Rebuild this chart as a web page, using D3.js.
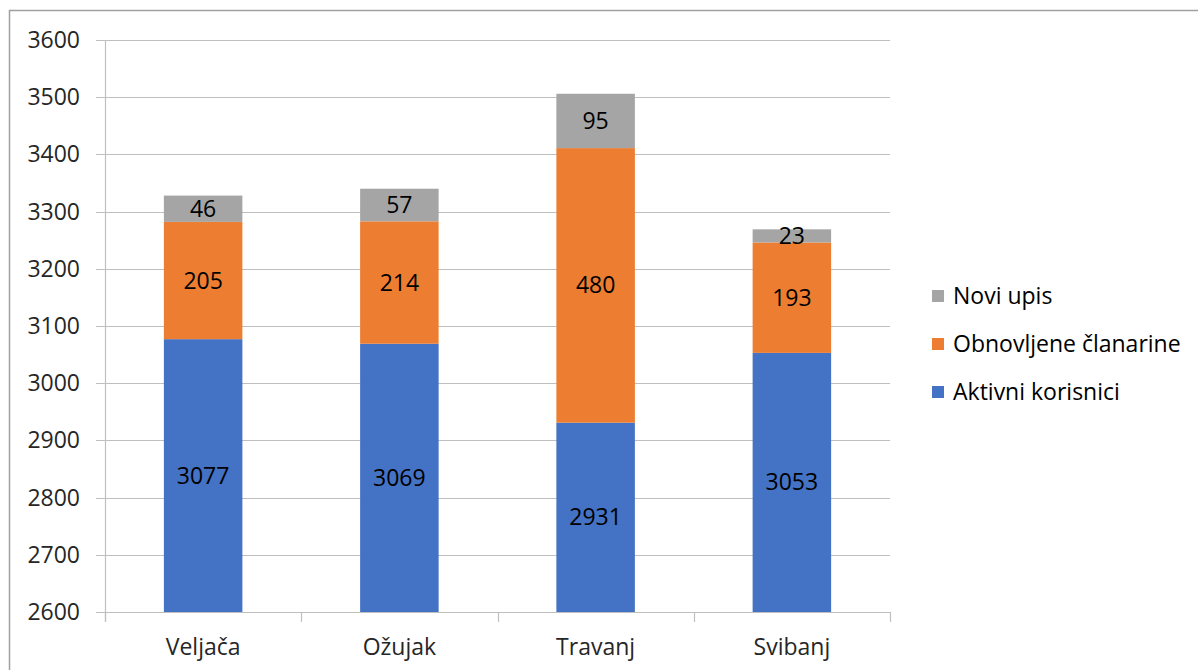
<!DOCTYPE html>
<html><head><meta charset="utf-8">
<script src="https://cdn.jsdelivr.net/npm/d3@7"></script>
<style>body{margin:0;background:#fff}svg{display:block}text{font-family:"Open Sans",sans-serif}</style>
</head><body>
<script>
const categories = ["Veljača","Ožujak","Travanj","Svibanj"];
const seriesNames = ["Aktivni korisnici","Obnovljene članarine","Novi upis"];
const aktivni = [3077,3069,2931,3053];
const obnovljene = [205,214,480,193];
const noviUpis = [46,57,95,23];
const yTicks = [2600,2700,2800,2900,3000,3100,3200,3300,3400,3500,3600];
const colors = ["#4472C4","#ED7D31","#A5A5A5"];

const W=1198,H=670;
const svg=d3.select("body").append("svg").attr("width",W).attr("height",H);
svg.append("rect").attr("x",9.5).attr("y",10.5).attr("width",W).attr("height",H).attr("fill","none").attr("stroke","#a0a0a0").attr("stroke-width",1.5);

const L=105,R=890,T=40,B=612;
const x=d3.scaleBand().domain(categories).range([L,R]).paddingInner(0.6).paddingOuter(0.3);
const y=d3.scaleLinear().domain([2600,3600]).range([B,T]);
const fs=23, tc="#262626";

svg.append("g").selectAll("line").data(yTicks).join("line")
 .attr("x1",96).attr("x2",R).attr("y1",d=>Math.round(y(d))+0.5).attr("y2",d=>Math.round(y(d))+0.5)
 .attr("stroke","#bfbfbf").attr("stroke-width",1.2);
svg.append("line").attr("x1",L+0.5).attr("x2",L+0.5).attr("y1",T).attr("y2",622).attr("stroke","#bfbfbf").attr("stroke-width",1.2);
const bw=(R-L)/categories.length;
svg.append("g").selectAll("line").data(d3.range(categories.length+1)).join("line")
 .attr("x1",i=>Math.round(L+i*bw)+0.5).attr("x2",i=>Math.round(L+i*bw)+0.5).attr("y1",B).attr("y2",622)
 .attr("stroke","#bfbfbf").attr("stroke-width",1.2);
svg.append("g").selectAll("text").data(yTicks).join("text")
 .attr("x",80).attr("y",d=>y(d)).attr("dy","0.35em").attr("text-anchor","end")
 .attr("font-size",fs).attr("fill",tc).text(d=>d);
svg.append("g").selectAll("text").data(categories).join("text")
 .attr("x",d=>x(d)+x.bandwidth()/2).attr("y",647).attr("dy","0.35em").attr("text-anchor","middle")
 .attr("font-size",fs).attr("fill",tc).text(d=>d);

const data=categories.map((c,i)=>({cat:c,"Aktivni korisnici":aktivni[i],"Obnovljene članarine":obnovljene[i],"Novi upis":noviUpis[i]}));
const stack=d3.stack().keys(seriesNames)(data);
const g=svg.append("g");
stack.forEach((s,si)=>{
  g.append("g").selectAll("rect").data(s).join("rect")
   .attr("x",d=>x(d.data.cat)).attr("width",x.bandwidth())
   .attr("y",d=>y(d[1])).attr("height",d=>y(Math.max(d[0],2600))-y(d[1]))
   .attr("fill",colors[si]);
});
stack.forEach((s,si)=>{
  g.append("g").selectAll("text").data(s).join("text")
   .attr("x",d=>x(d.data.cat)+x.bandwidth()/2)
   .attr("y",d=>(y(Math.max(d[0],2600))+y(d[1]))/2).attr("dy","0.35em")
   .attr("text-anchor","middle").attr("font-size",fs).attr("fill","#000")
   .text(d=>d[1]-d[0]);
});
const leg=svg.append("g");
const legOrder=[2,1,0];
legOrder.forEach((si,k)=>{
  const ly=296+k*48;
  leg.append("rect").attr("x",932).attr("y",ly-6).attr("width",12).attr("height",12).attr("fill",colors[si]);
  leg.append("text").attr("x",953).attr("y",ly).attr("dy","0.35em").attr("font-size",fs).attr("fill","#000").text(seriesNames[si]);
});
</script>
</body></html>
